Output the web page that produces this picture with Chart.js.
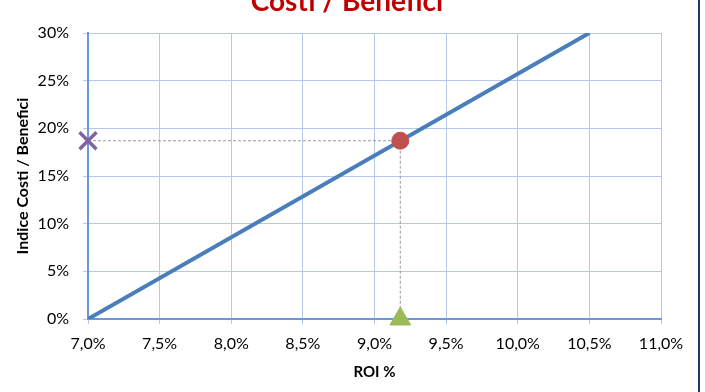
<!DOCTYPE html>
<html>
<head>
<meta charset="utf-8">
<script src="https://cdn.jsdelivr.net/npm/chart.js@4/dist/chart.umd.min.js"></script>
<style>
  html, body { margin: 0; padding: 0; background: #ffffff; }
  #wrap { position: relative; width: 705px; height: 392px; }
  #edge { position: absolute; left: 698px; top: 0; width: 2px; height: 392px; background: #1F3864; }
</style>
</head>
<body>
<div id="wrap">
  <canvas id="c" width="705" height="392"></canvas>
  <div id="edge"></div>
</div>
<script>
// ---- data ----
const chartTitle = 'Costi / Benefici';
const xAxisTitle = 'ROI %';
const yAxisTitle = 'Indice Costi / Benefici';
const lineRoi = [7.0, 10.5];
const lineIndex = [0, 30];
const pointRoi = 9.18;
const pointIndex = 18.7;
const xTicks = [7.0, 7.5, 8.0, 8.5, 9.0, 9.5, 10.0, 10.5, 11.0];
const yTicks = [0, 5, 10, 15, 20, 25, 30];

const toXY = (xs, ys) => xs.map((x, i) => ({x: x, y: ys[i]}));

const titlePlugin = {
  id: 'clippedTitle',
  afterDraw(chart) {
    const ctx = chart.ctx;
    ctx.save();
    ctx.fillStyle = '#C00000';
    ctx.font = 'bold 28px Lato';
    ctx.textAlign = 'center';
    ctx.textBaseline = 'alphabetic';
    ctx.fillText(chartTitle, 347, 11);
    ctx.restore();
  }
};

new Chart(document.getElementById('c'), {
  type: 'scatter',
  data: {
    datasets: [
      { label: 'marker', data: [{x: pointRoi, y: pointIndex}], pointStyle: 'circle', pointRadius: 8.5,
        backgroundColor: '#C0504D', borderColor: '#C0504D', borderWidth: 1, order: 0, clip: false },
      { label: 'yMark', data: [{x: lineRoi[0], y: pointIndex}], pointStyle: 'crossRot', pointRadius: 12,
        borderColor: '#8064A2', backgroundColor: '#8064A2', borderWidth: 3.5, order: 0, clip: false },
      { label: 'xMark', data: [{x: pointRoi, y: 0}], pointStyle: 'triangle', pointRadius: 12,
        borderColor: '#9BBB59', backgroundColor: '#9BBB59', borderWidth: 1, order: 0, clip: false },
      { label: 'line', data: toXY(lineRoi, lineIndex), showLine: true, borderColor: '#4A7EBB',
        borderWidth: 4, pointRadius: 0, order: 2 },
      { label: 'hGuide', data: [{x: lineRoi[0], y: pointIndex}, {x: pointRoi, y: pointIndex}], showLine: true,
        borderColor: '#9A9A9A', borderWidth: 1, borderDash: [3, 2], pointRadius: 0, order: 3 },
      { label: 'vGuide', data: [{x: pointRoi, y: pointIndex}, {x: pointRoi, y: 0}], showLine: true,
        borderColor: '#9A9A9A', borderWidth: 1, borderDash: [3, 2], pointRadius: 0, order: 3 }
    ]
  },
  options: {
    responsive: false,
    animation: false,
    events: [],
    layout: { padding: { left: 0, right: 44, top: 33, bottom: 0 } },
    plugins: { legend: { display: false }, tooltip: { enabled: false } },
    scales: {
      x: {
        type: 'linear', min: xTicks[0], max: xTicks[xTicks.length - 1],
        afterBuildTicks: (s) => { s.ticks = xTicks.map(v => ({value: v})); },
        afterFit: (s) => { s.height = 73; },
        ticks: { color: '#000', font: { family: 'Lato', size: 16 }, padding: 10,
          callback: (v) => v.toFixed(1).replace('.', ',') + '%' },
        grid: { color: '#B3C8EA', lineWidth: 1, tickLength: 5 },
        border: { color: '#6A98D8', width: 2 },
        title: { display: true, text: xAxisTitle, color: '#000', font: { family: 'Lato', size: 15, weight: 'bold' },
          padding: { top: 0, bottom: 11 } }
      },
      y: {
        type: 'linear', min: yTicks[0], max: yTicks[yTicks.length - 1],
        afterBuildTicks: (s) => { s.ticks = yTicks.map(v => ({value: v})); },
        afterFit: (s) => { s.width = 88; },
        ticks: { color: '#000', font: { family: 'Lato', size: 16 }, padding: 14,
          callback: (v) => v + '%' },
        grid: { color: '#B3C8EA', lineWidth: 1, tickLength: 5 },
        border: { color: '#6A98D8', width: 2 },
        title: { display: true, text: yAxisTitle, color: '#000', font: { family: 'Lato', size: 16, weight: 'bold' },
          padding: { top: 13, bottom: 0 } }
      }
    }
  },
  plugins: [titlePlugin]
});
</script>
</body>
</html>
